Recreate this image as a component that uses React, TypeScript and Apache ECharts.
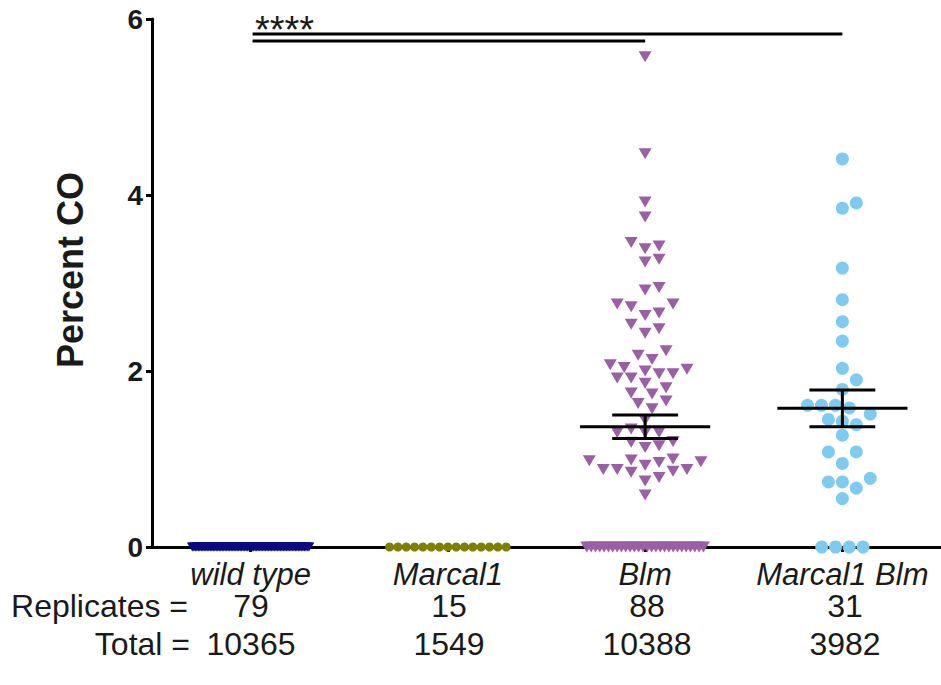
import React, { useEffect, useRef } from "react";
import * as echarts from "echarts";

// ---------------- data ----------------
const CATEGORIES = ["wild type", "Marcal1", "Blm", "Marcal1 Blm"];
const Y_MIN = 0;
const Y_MAX = 6;
const Y_INTERVAL = 2;

const WILD_TYPE_VALUES = [
  0, 0, 0, 0, 0, 0, 0, 0, 0, 0, 0, 0, 0, 0, 0, 0, 0, 0, 0, 0,
  0, 0, 0, 0, 0, 0, 0, 0, 0, 0, 0, 0, 0, 0, 0, 0, 0, 0, 0, 0,
  0, 0, 0, 0, 0, 0, 0, 0, 0, 0, 0, 0, 0, 0, 0, 0, 0, 0, 0, 0,
  0, 0, 0, 0, 0, 0, 0, 0, 0, 0, 0, 0, 0, 0, 0, 0, 0, 0, 0,
];

const MARCAL1_VALUES = [0, 0, 0, 0, 0, 0, 0, 0, 0, 0, 0, 0, 0, 0, 0];

const BLM_VALUES = [
  5.57, 4.47, 3.92, 3.75, 3.46, 3.42, 3.39, 3.27, 3.24, 2.95, 2.92,
  2.76, 2.73, 2.76, 2.66, 2.63, 2.53, 2.48, 2.43,
  2.23, 2.18, 2.13, 2.04, 2.07, 2.0, 2.02, 1.97, 1.97, 1.86, 1.92, 1.92,
  1.81, 1.75, 1.74, 1.66, 1.63, 1.57,
  1.44, 1.34, 1.3, 1.3, 1.3, 1.19, 1.13, 1.15, 1.2,
  0.98, 0.93, 0.97, 0.96, 0.99, 1.0,
  0.88, 0.86, 0.85, 0.88, 0.88, 0.75, 0.79, 0.59,
  0, 0, 0, 0, 0, 0, 0, 0, 0, 0, 0, 0, 0, 0, 0, 0, 0, 0, 0, 0,
  0, 0, 0, 0, 0, 0, 0, 0,
];

const MARCAL1_BLM_VALUES = [
  4.41, 3.91, 3.85, 3.17, 2.81, 2.56, 2.34, 2.03, 1.9, 1.79,
  1.58, 1.61, 1.61, 1.61, 1.51, 1.45, 1.39, 1.43, 1.27,
  1.08, 1.08, 0.95, 0.78, 0.74, 0.74, 0.67, 0.55,
  0, 0, 0, 0,
];

// mean and SEM drawn for groups
const MEANS = [0, 0, 1.367, 1.576];
const SEMS = [0, 0, 0.133, 0.209];

// significance brackets: [from category, to category, height]
const SIG_LINES = [
  [0, 3, 5.83],
  [0, 2, 5.75],
];
const SIG_LABEL = "****";

const REPLICATES = [79, 15, 88, 31];
const TOTALS = [10365, 1549, 10388, 3982];

// ---------------- styling / layout ----------------
const W = 941;
const H = 685;
const GRID_LEFT = 152;
const GRID_TOP = 19;
const GRID_W = 792;
const GRID_H = 528;
const FONT = '"Liberation Sans", Arial, Helvetica, sans-serif';
const TEXT = "#1a1a1a";

const COLORS = ["#0b0b80", "#808000", "#9b5fa6", "#7ecbef"];

const PX_PER_Y = GRID_H / (Y_MAX - Y_MIN);
const PX_PER_X = GRID_W / CATEGORIES.length;

// beeswarm layout (pixel offsets) computed from the values
function swarmOffsets(
  values: number[],
  symW: number,
  symH: number,
  step: number,
  maxHalf: number
): number[] {
  const offs = values.map(() => 0);
  const zeroIdx: number[] = [];
  values.forEach((v, i) => {
    if (v === 0) zeroIdx.push(i);
  });
  const n = zeroIdx.length;
  if (n > 0) {
    const spacing = n > 1 ? Math.min(symW, (2 * maxHalf) / (n - 1)) : 0;
    zeroIdx.forEach((idx, k) => {
      offs[idx] = (k - (n - 1) / 2) * spacing;
    });
  }
  const order = values
    .map((_, i) => i)
    .filter((i) => values[i] !== 0)
    .sort((a, b) => values[a] - values[b]);
  const placed: { x: number; y: number }[] = [];
  for (const i of order) {
    const y = values[i] * PX_PER_Y;
    for (let k = 0; k < 60; k++) {
      const m = Math.ceil(k / 2);
      const off = k === 0 ? 0 : k % 2 === 1 ? m * step : -m * step;
      let ok = true;
      for (const p of placed) {
        const dx = (off - p.x) / symW;
        const dy = (y - p.y) / symH;
        if (dx * dx + dy * dy < 1) {
          ok = false;
          break;
        }
      }
      if (ok) {
        offs[i] = off;
        placed.push({ x: off, y });
        break;
      }
    }
  }
  return offs;
}

type GroupStyle = {
  values: number[];
  symbol: string;
  size: number[];
  rotate: number;
  collW: number;
  collH: number;
};

const GROUPS: GroupStyle[] = [
  { values: WILD_TYPE_VALUES, symbol: "triangle", size: [11, 9], rotate: 180, collW: 11, collH: 9 },
  { values: MARCAL1_VALUES, symbol: "circle", size: [9, 9], rotate: 0, collW: 9, collH: 9 },
  { values: BLM_VALUES, symbol: "triangle", size: [13, 11], rotate: 180, collW: 13.5, collH: 11.5 },
  { values: MARCAL1_BLM_VALUES, symbol: "circle", size: [13, 13], rotate: 0, collW: 13.8, collH: 13.8 },
];

function buildOption() {
  const scatterSeries = GROUPS.map((g, gi) => {
    const offs = swarmOffsets(g.values, g.collW, g.collH, 7, 58.5);
    return {
      type: "scatter",
      name: CATEGORIES[gi],
      xAxisIndex: 1,
      yAxisIndex: 0,
      symbol: g.symbol,
      symbolSize: g.size,
      symbolRotate: g.rotate,
      itemStyle: { color: COLORS[gi], opacity: 1 },
      z: 3,
      data: g.values.map((v, i) => [gi + offs[i] / PX_PER_X, v]),
    };
  });

  const errData = MEANS.map((m, i) => [i, m, SEMS[i]]).filter((d) => d[1] > 0);

  const errSeries = {
    type: "custom",
    xAxisIndex: 1,
    yAxisIndex: 0,
    z: 5,
    data: errData,
    renderItem: (_params: any, api: any) => {
      const x = api.value(0);
      const mean = api.value(1);
      const sem = api.value(2);
      const c = api.coord([x, mean]);
      const up = api.coord([x, mean + sem]);
      const lo = api.coord([x, mean - sem]);
      const meanHalf = api.size([0.33, 0])[0];
      const capHalf = api.size([0.167, 0])[0];
      const st = { stroke: "#000", lineWidth: 3 };
      return {
        type: "group",
        children: [
          { type: "line", shape: { x1: c[0] - meanHalf, y1: c[1], x2: c[0] + meanHalf, y2: c[1] }, style: st },
          { type: "line", shape: { x1: c[0], y1: up[1], x2: c[0], y2: lo[1] }, style: st },
          { type: "line", shape: { x1: c[0] - capHalf, y1: up[1], x2: c[0] + capHalf, y2: up[1] }, style: st },
          { type: "line", shape: { x1: c[0] - capHalf, y1: lo[1], x2: c[0] + capHalf, y2: lo[1] }, style: st },
        ],
      };
    },
  };

  const sigSeries = SIG_LINES.map((s) => ({
    type: "line",
    xAxisIndex: 1,
    yAxisIndex: 0,
    symbol: "none",
    silent: true,
    z: 4,
    lineStyle: { color: "#000", width: 3 },
    data: [
      [s[0] + 0.01, s[2]],
      [s[1], s[2]],
    ],
  }));

  const colX = (i: number) => GRID_LEFT + PX_PER_X * (i + 0.5);
  const ROW1_Y = 606;
  const ROW2_Y = 644;
  const tableFont = 32;
  const graphic: any[] = [
    {
      type: "text",
      x: 255,
      y: 30,
      style: { text: SIG_LABEL, fontSize: 38, fontFamily: FONT, fill: TEXT, align: "left", verticalAlign: "middle" },
    },
    {
      type: "text",
      x: 188,
      y: ROW1_Y,
      style: { text: "Replicates =", fontSize: tableFont, fontFamily: FONT, fill: TEXT, align: "right", verticalAlign: "middle" },
    },
    {
      type: "text",
      x: 190,
      y: ROW2_Y,
      style: { text: "Total =", fontSize: tableFont, fontFamily: FONT, fill: TEXT, align: "right", verticalAlign: "middle" },
    },
  ];
  REPLICATES.forEach((r, i) => {
    graphic.push({
      type: "text",
      x: colX(i),
      y: ROW1_Y,
      style: { text: String(r), fontSize: tableFont, fontFamily: FONT, fill: TEXT, align: "center", verticalAlign: "middle" },
    });
  });
  TOTALS.forEach((t, i) => {
    graphic.push({
      type: "text",
      x: colX(i),
      y: ROW2_Y,
      style: { text: String(t), fontSize: tableFont, fontFamily: FONT, fill: TEXT, align: "center", verticalAlign: "middle" },
    });
  });

  return {
    animation: false,
    backgroundColor: "#fff",
    grid: { left: GRID_LEFT, top: GRID_TOP, width: GRID_W, height: GRID_H, containLabel: false },
    xAxis: [
      {
        type: "category",
        data: CATEGORIES,
        boundaryGap: true,
        axisLine: { show: true, onZero: false, lineStyle: { color: "#000", width: 3 } },
        axisTick: { show: true, alignWithLabel: true, length: 5, lineStyle: { color: "#000", width: 3 } },
        axisLabel: {
          interval: 0,
          fontSize: 31,
          lineHeight: 32,
          fontStyle: "italic",
          fontFamily: FONT,
          color: TEXT,
          margin: 11,
        },
        splitLine: { show: false },
      },
      {
        type: "value",
        min: -0.5,
        max: 3.5,
        show: false,
        axisLine: { show: false, onZero: false },
        splitLine: { show: false },
      },
    ],
    yAxis: [
      {
        type: "value",
        min: Y_MIN,
        max: Y_MAX,
        interval: Y_INTERVAL,
        name: "Percent CO",
        nameLocation: "middle",
        nameGap: 64,
        nameTextStyle: {
          fontSize: 36,
          fontWeight: "bold",
          fontFamily: FONT,
          color: TEXT,
          padding: [0, 0, 0, 26],
        },
        axisLine: { show: true, onZero: false, lineStyle: { color: "#000", width: 3 } },
        axisTick: { show: true, length: 6, lineStyle: { color: "#000", width: 3 } },
        axisLabel: { fontSize: 28, fontWeight: "bold", fontFamily: FONT, color: TEXT, margin: 9 },
        splitLine: { show: false },
      },
    ],
    series: [...scatterSeries, errSeries, ...sigSeries],
    graphic,
  };
}

export default function App() {
  const ref = useRef<HTMLDivElement>(null);
  useEffect(() => {
    if (!ref.current) return;
    const chart = echarts.init(ref.current, null, { renderer: "svg" });
    chart.setOption(buildOption() as any);
    return () => chart.dispose();
  }, []);
  return (
    <div
      ref={ref}
      style={{ position: "fixed", left: 0, top: 0, width: W, height: H, background: "#fff" }}
    />
  );
}
